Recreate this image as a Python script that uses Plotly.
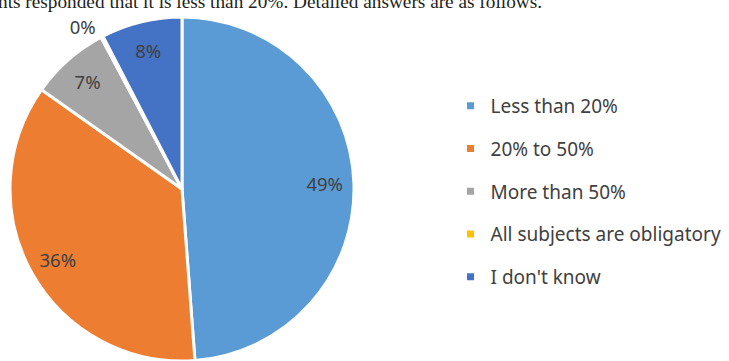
import plotly.graph_objects as go

categories = ["Less than 20%", "20% to 50%", "More than 50%", "All subjects are obligatory", "I don't know"]
values = [48.8, 36.0, 7.4, 0.2, 7.6]
colors = ["#5B9BD5", "#ED7D31", "#A5A5A5", "#FFC000", "#4472C4"]
text_positions = ["inside", "inside", "inside", "outside", "inside"]
caption = "nts responded that it is less than 20%. Detailed answers are as follows."

W, H = 729, 361
cx, cy, r = 182, 189, 172
dom = dict(x=[(cx - r) / W, (cx + r) / W], y=[max(0, (H - cy - r) / H), min(1, (H - cy + r) / H)])

fig = go.Figure()
# coloured slices
fig.add_trace(go.Pie(
    labels=categories, values=values, sort=False, direction="clockwise", rotation=0,
    marker=dict(colors=colors, line=dict(color="white", width=3)),
    textinfo="none", showlegend=False, hoverinfo="label+percent", domain=dom,
))
# percentage labels placed in an outer ring (like the original)
fig.add_trace(go.Pie(
    labels=categories, values=values, sort=False, direction="clockwise", rotation=0,
    hole=0.66,
    marker=dict(colors=["rgba(0,0,0,0)"] * len(values), line=dict(width=0)),
    texttemplate="%{percent:.0%}", textposition=text_positions,
    insidetextorientation="horizontal",
    textfont=dict(family="Noto Sans", size=18.5, color="#404040"),
    showlegend=False, hoverinfo="skip", domain=dom,
))

for name, col in zip(categories, colors):
    fig.add_trace(go.Scatter(
        x=[None], y=[None], mode="markers", name=name, legendgroup=name,
        marker=dict(symbol="square", size=7, color=col),
    ))

fig.add_annotation(
    text=caption, xref="paper", yref="paper", x=0, y=1, xanchor="left", yanchor="top",
    xshift=-4, yshift=11, showarrow=False,
    font=dict(family="Liberation Serif", size=19.3, color="#231F20"),
)

fig.update_layout(
    width=W, height=H,
    margin=dict(l=0, r=0, t=0, b=0, autoexpand=False),
    paper_bgcolor="white", plot_bgcolor="white",
    xaxis=dict(visible=False), yaxis=dict(visible=False),
    legend=dict(
        x=0.618, y=0.759, xanchor="left", yanchor="top",
        font=dict(family="Noto Sans", size=19, color="#404040"),
        tracegroupgap=15, bgcolor="rgba(0,0,0,0)",
    ),
)

fig.write_html("out.html", post_script="document.body.style.margin='0';",
               config={"displayModeBar": False})
